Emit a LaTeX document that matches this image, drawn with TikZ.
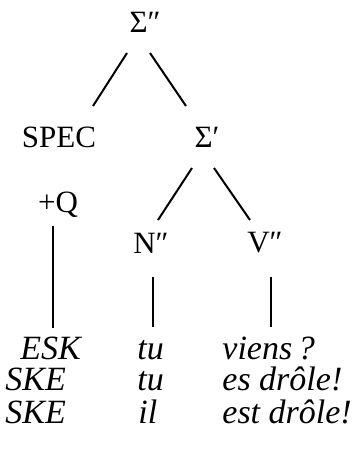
\documentclass[tikz,border=0pt]{standalone}
\usepackage{fontspec}
\setmainfont{Liberation Serif}
\tikzset{
  cat/.style={inner sep=0pt, font=\fontsize{15.5}{18}\selectfont},
  wd/.style={inner sep=0pt, anchor=base west, text height=0.68em, text depth=0pt, font=\fontsize{17}{20}\selectfont\itshape},
  br/.style={line width=1pt}
}
\begin{document}
\begin{tikzpicture}[x=0.5pt, y=-0.5pt]
\useasboundingbox (0,0) rectangle (356,449);

\node[cat] (S2) at (145,22) {Σ″};
\node[cat] (SPEC) at (59,137) {SPEC};
\node[cat] (S1) at (207,137) {Σ′};
\node[cat] (Q) at (58,205) {+Q};
\node[cat] (N) at (151,243) {N″};
\node[cat] (V) at (265,243) {V″};

\node[wd] (A1) at (20,359) {ESK};
\node[wd] (B1) at (137,359) {tu};
\node[wd] (C1) at (222,359) {viens\,?};
\node[wd] (A2) at (5,390) {SKE};
\node[wd] (B2) at (137,390) {tu};
\node[wd] (C2) at (222,390) {es drôle!};
\node[wd] (A3) at (5,423) {SKE};
\node[wd] (B3) at (138,423) {il};
\node[wd] (C3) at (222,423) {est drôle!};

\draw[br] ([shift={(-18,31)}]S2.center) -- ([shift={(34,-31)}]SPEC.center);
\draw[br] ([shift={(5,31)}]S2.center) -- ([shift={(-21,-31)}]S1.center);
\draw[br] ([shift={(-15,31)}]S1.center) -- ([shift={(7,-23)}]N.center);
\draw[br] ([shift={(7,31)}]S1.center) -- ([shift={(-15,-23)}]V.center);
\draw[br] ([shift={(-5,21)}]Q.center) -- ([shift={(33,-31)}]A1.base west);
\draw[br] ([shift={(2,34)}]N.center) -- ([shift={(16,-32)}]B1.base west);
\draw[br] ([shift={(6,34)}]V.center) -- ([shift={(49,-32)}]C1.base west);
\end{tikzpicture}
\end{document}
